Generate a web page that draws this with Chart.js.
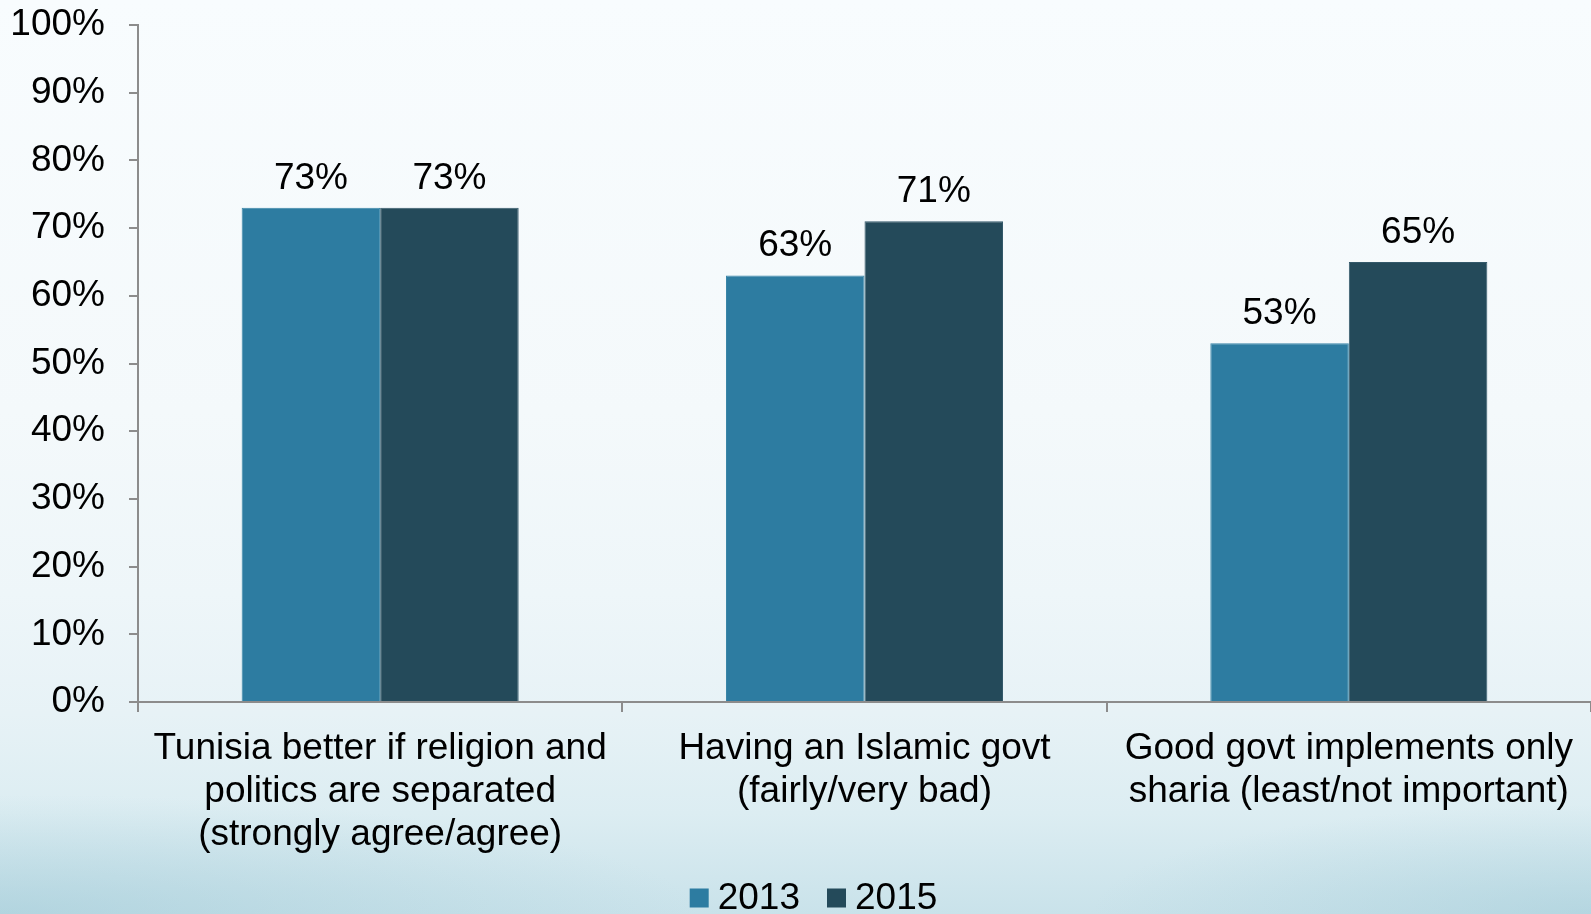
<!DOCTYPE html>
<html>
<head>
<meta charset="utf-8">
<script src="https://cdn.jsdelivr.net/npm/chart.js@4"></script>
<style>
  html, body { margin: 0; padding: 0; width: 1591px; height: 914px; overflow: hidden; }
  body {
    background:
      radial-gradient(ellipse 700px 120px at 0% 100%, rgba(150,196,210,0.45), rgba(150,196,210,0) 100%),
      radial-gradient(ellipse 500px 110px at 100% 100%, rgba(150,196,210,0.4), rgba(150,196,210,0) 100%),
      linear-gradient(to bottom, #f8fcfe 0%, #f4f9fb 45%, #eef6f9 65%, #e7f2f6 78%, #dcedf2 89%, #c9e2ea 100%);
  }
  #wrap { position: relative; width: 1591px; height: 914px; }
</style>
</head>
<body>
<div id="wrap"><canvas id="chart" width="1591" height="914"></canvas></div>
<script>
// Survey results: share of respondents per statement, 2013 vs 2015
const categories = [
  ["Tunisia better if religion and", "politics are separated", "(strongly agree/agree)"],
  ["Having an Islamic govt", "(fairly/very bad)"],
  ["Good govt implements only", "sharia (least/not important)"]
];
const seriesNames = ["2013", "2015"];
const values2013 = [73, 63, 53];
const values2015 = [73, 71, 65];
const yTicks = [0, 10, 20, 30, 40, 50, 60, 70, 80, 90, 100];

const colors = ["#2d7ca1", "#244a5a"];
const edgeColors = ["#3a86a8", "#34596a"];
const axisGray = "#8c8c8c";
const font = "'Liberation Sans', Arial, sans-serif";
const fontSize = 37;

// Percentage labels above each bar
const valueLabels = {
  id: "valueLabels",
  afterDatasetsDraw(chart) {
    const ctx = chart.ctx;
    ctx.save();
    ctx.font = fontSize + "px " + font;
    ctx.fillStyle = "#000";
    ctx.textAlign = "center";
    ctx.textBaseline = "alphabetic";
    chart.data.datasets.forEach((ds, di) => {
      chart.getDatasetMeta(di).data.forEach((bar, i) => {
        ctx.fillText(ds.data[i] + "%", bar.x, bar.y - 19);
      });
    });
    ctx.restore();
  }
};

// Legend row under the category labels
const bottomLegend = {
  id: "bottomLegend",
  afterDraw(chart) {
    const ctx = chart.ctx;
    ctx.save();
    ctx.font = fontSize + "px " + font;
    ctx.textBaseline = "middle";
    const box = 19, gapText = 9, gapItem = 27;
    const items = chart.data.datasets.map(ds => ({ text: ds.label, color: ds.backgroundColor, w: ctx.measureText(ds.label).width }));
    const total = items.reduce((s, it) => s + box + gapText + it.w, 0) + gapItem * (items.length - 1);
    let x = (chart.width - total) / 2 + 18;
    const cy = chart.height - 16;
    items.forEach(it => {
      ctx.fillStyle = it.color;
      ctx.fillRect(x, cy - box / 2, box, box);
      x += box + gapText;
      ctx.fillStyle = "#000";
      ctx.fillText(it.text, x, cy + 1);
      x += it.w + gapItem;
    });
    ctx.restore();
  }
};

new Chart(document.getElementById("chart"), {
  type: "bar",
  data: {
    labels: categories,
    datasets: [
      { label: seriesNames[0], data: values2013, backgroundColor: colors[0], borderColor: edgeColors[0], borderWidth: 1 },
      { label: seriesNames[1], data: values2015, backgroundColor: colors[1], borderColor: edgeColors[1], borderWidth: 1 }
    ]
  },
  options: {
    responsive: false,
    animation: false,
    events: [],
    layout: { padding: { top: 25, right: 0, left: 0, bottom: 0 } },
    datasets: { bar: { categoryPercentage: 0.572, barPercentage: 1.0 } },
    plugins: { legend: { display: false }, tooltip: { enabled: false } },
    scales: {
      x: {
        grid: { display: true, drawOnChartArea: false, drawTicks: true, tickLength: 10, color: axisGray, lineWidth: 2, offset: true },
        border: { display: true, color: axisGray, width: 2 },
        ticks: { color: "#000", font: { family: font, size: fontSize, lineHeight: 1.15 }, padding: 16, maxRotation: 0, autoSkip: false },
        afterFit(scale) { scale.height = 212; }
      },
      y: {
        min: 0, max: 100,
        afterBuildTicks(scale) { scale.ticks = yTicks.map(v => ({ value: v })); },
        grid: { display: true, drawOnChartArea: false, drawTicks: true, tickLength: 9, color: axisGray, lineWidth: 2 },
        border: { display: true, color: axisGray, width: 2 },
        ticks: { color: "#000", font: { family: font, size: fontSize }, padding: 24, callback: v => v + "%" },
        afterFit(scale) { scale.width = 138; scale.paddingTop = 0; scale.paddingBottom = 0; }
      }
    }
  },
  plugins: [valueLabels, bottomLegend]
});
</script>
</body>
</html>
